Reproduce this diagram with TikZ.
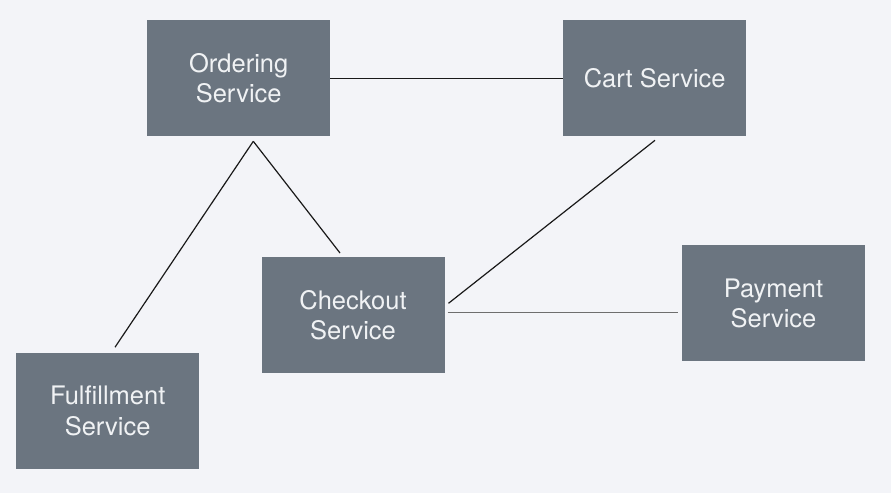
\documentclass[tikz,border=0pt]{standalone}
\usepackage{fontspec}
\setmainfont{TeX Gyre Heros}
\usepackage{tikz}
\usetikzlibrary{calc}

\definecolor{pagebg}{HTML}{F3F4F8}
\definecolor{boxfill}{HTML}{6B7580}
\definecolor{boxtext}{HTML}{F0F2F4}
\definecolor{linkgray}{HTML}{6E6E6E}

\begin{document}
\begin{tikzpicture}[x=1pt,y=-1pt,
    service/.style={fill=boxfill,text=boxtext,minimum width=183pt,minimum height=116pt,
      inner sep=0pt,outer sep=0pt,align=center,
      font=\fontsize{25.5pt}{30.5pt}\selectfont},
    link/.style={line width=1.2pt,draw=black!90}]
      \fill[pagebg] (0,0) rectangle (891,493);
      \useasboundingbox (0,0) rectangle (891,493);

      \node[service] at (238.7,78.3) (ordering) {Ordering\\Service};
      \node[service] at (654.7,78.3) (cart) {Cart Service};
      \node[service] at (353,315) (checkout) {Checkout\\Service};
      \node[service] at (773.5,303.3) (payment) {Payment\\Service};
      \node[service] at (107.7,410.8) (fulfillment) {Fulfillment\\Service};

      \coordinate (fork) at ([xshift=14.6pt,yshift=-5pt]ordering.south);

      \draw[link] (ordering.east) -- (cart.west);
      \draw[link] (fork) -- ([xshift=7.3pt,yshift=5.6pt]fulfillment.north);
      \draw[link] (fork) -- ([xshift=-13pt,yshift=4pt]checkout.north);
      \draw[link] ([xshift=0.3pt,yshift=-4pt]cart.south) -- ([xshift=4pt,yshift=11.7pt]checkout.east);
      \draw[link,draw=linkgray] ([xshift=3pt,yshift=2.3pt]checkout.east) -- ([xshift=-3.7pt,yshift=-9.4pt]payment.west);
    \end{tikzpicture}
\end{document}
